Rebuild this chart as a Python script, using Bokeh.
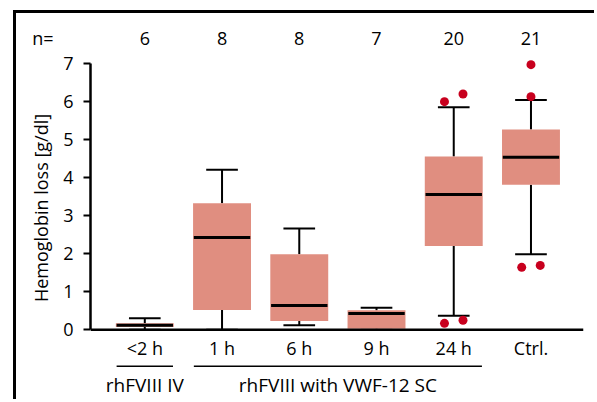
from bokeh.plotting import figure
from bokeh.models import Span, LinearAxis, FixedTicker, Range1d
from bokeh.core.properties import value
from bokeh.embed import file_html
from bokeh.resources import INLINE

# ---- data ----
categories = ["<2 h", "1 h", "6 h", "9 h", "24 h", "Ctrl."]
n_counts = [6, 8, 8, 7, 20, 21]
whisker_low = [0.00, 0.00, 0.12, 0.00, 0.37, 1.98]
q1 = [0.07, 0.52, 0.23, 0.03, 2.20, 3.81]
median = [0.12, 2.42, 0.64, 0.43, 3.55, 4.53]
q3 = [0.17, 3.32, 1.98, 0.51, 4.55, 5.26]
whisker_high = [0.30, 4.20, 2.66, 0.58, 5.84, 6.03]
outliers = {
    "24 h": [5.99, 6.19, 0.17, 0.25],
    "Ctrl.": [6.96, 6.12, 1.64, 1.69],
}
groups = [("rhFVIII IV", "<2 h", "<2 h"), ("rhFVIII with VWF-12 SC", "1 h", "24 h")]
y_ticks = [0, 1, 2, 3, 4, 5, 6, 7]

FONT = "Open Sans"
FS = "18px"
FS_GROUP = "19px"
BOX = "#E08E80"
DOT = "#C8001E"

N_ROW = 7.655        # data height of the "n=" row
CAT_ROW = -0.48
GROUP_LINE = -0.955
GROUP_ROW = -1.44

idx = list(range(len(categories)))

p = figure(width=581, height=389, output_backend="svg", toolbar_location=None,
           x_range=Range1d(-0.703, 5.68), y_range=Range1d(-1.909, 8.304),
           x_axis_location=None, y_axis_location=None,
           min_border_left=74, min_border_right=14, min_border_top=0, min_border_bottom=0)
p.grid.visible = False
p.outline_line_color = None
p.styles = {"margin-left": "13px", "margin-top": "10px",
            "border-left": "3px solid black", "border-top": "3px solid black"}

yaxis = LinearAxis(bounds=(0, 7), ticker=FixedTicker(ticks=y_ticks),
                   axis_label="Hemoglobin loss [g/dl]")
yaxis.axis_line_width = 2.5
yaxis.major_tick_line_width = 2
yaxis.major_tick_out = 7
yaxis.major_tick_in = 0
yaxis.minor_tick_out = 0
yaxis.minor_tick_in = 0
yaxis.major_label_standoff = 10
yaxis.major_label_text_font = FONT
yaxis.major_label_text_font_size = FS
yaxis.major_label_text_color = "black"
yaxis.axis_label_text_font = FONT
yaxis.axis_label_text_font_size = FS
yaxis.axis_label_text_font_style = "normal"
yaxis.axis_label_text_color = "black"
yaxis.axis_label_standoff = 7
p.add_layout(yaxis, "left")

# outer axis carrying only the "n=" row label
naxis = LinearAxis(ticker=FixedTicker(ticks=[N_ROW]), major_label_overrides={N_ROW: "n="})
naxis.axis_line_color = None
naxis.major_tick_line_color = None
naxis.minor_tick_line_color = None
naxis.major_tick_out = 0
naxis.major_tick_in = 0
naxis.minor_tick_out = 0
naxis.minor_tick_in = 0
naxis.major_label_standoff = -27
naxis.major_label_text_font = FONT
naxis.major_label_text_font_size = FS
naxis.major_label_text_color = "black"
p.add_layout(naxis, "left")

box_w = 0.75
cap_w = 0.41

# whiskers
p.segment(x0=idx, y0=q3, x1=idx, y1=whisker_high, line_color="black", line_width=2)
p.segment(x0=idx, y0=q1, x1=idx, y1=whisker_low, line_color="black", line_width=2)
p.segment(x0=[i - cap_w / 2 for i in idx], x1=[i + cap_w / 2 for i in idx],
          y0=whisker_high, y1=whisker_high, line_color="black", line_width=2)
p.segment(x0=[i - cap_w / 2 for i in idx], x1=[i + cap_w / 2 for i in idx],
          y0=whisker_low, y1=whisker_low, line_color="black", line_width=2)
# boxes
p.vbar(x=idx, width=box_w, bottom=q1, top=q3, fill_color=BOX, line_color=None)
# medians
p.segment(x0=[i - box_w / 2 + 0.01 for i in idx], x1=[i + box_w / 2 - 0.01 for i in idx],
          y0=median, y1=median, line_color="black", line_width=3)

# outliers (dodge pairs that are close together)
ox, oy = [], []
for cat, vals in outliers.items():
    ci = categories.index(cat)
    vs = sorted(vals)
    used = [False] * len(vs)
    for k, v in enumerate(vs):
        if used[k]:
            continue
        if k + 1 < len(vs) and not used[k + 1] and abs(vs[k + 1] - v) < 0.4:
            ox += [ci - 0.12, ci + 0.12]
            oy += [v, vs[k + 1]]
            used[k] = used[k + 1] = True
        else:
            ox.append(ci)
            oy.append(v)
            used[k] = True
p.scatter(x=ox, y=oy, size=9, fill_color=DOT, line_color=None)

# baseline (x axis line)
p.add_layout(Span(location=0, dimension="width", line_color="black", line_width=2.5))

# category labels
p.text(x=idx, y=[CAT_ROW] * len(idx), text=categories, text_align="center",
       text_baseline="middle", text_font=value(FONT), text_font_size=FS, text_color="black")

# group lines and labels
for name, a, b in groups:
    ia, ib = categories.index(a), categories.index(b)
    p.segment(x0=[ia - 0.365], x1=[ib + 0.365], y0=[GROUP_LINE], y1=[GROUP_LINE],
              line_color="black", line_width=1.5)
    p.text(x=[(ia + ib) / 2], y=[GROUP_ROW], text=[name], text_align="center",
           text_baseline="middle", text_font=value(FONT), text_font_size=FS_GROUP,
           text_color="black")

# n counts
p.text(x=idx, y=[N_ROW] * len(idx), text=[str(v) for v in n_counts], text_align="center",
       text_baseline="middle", text_font=value(FONT), text_font_size=FS, text_color="black")

open("out.html", "w").write(file_html(p, INLINE))
